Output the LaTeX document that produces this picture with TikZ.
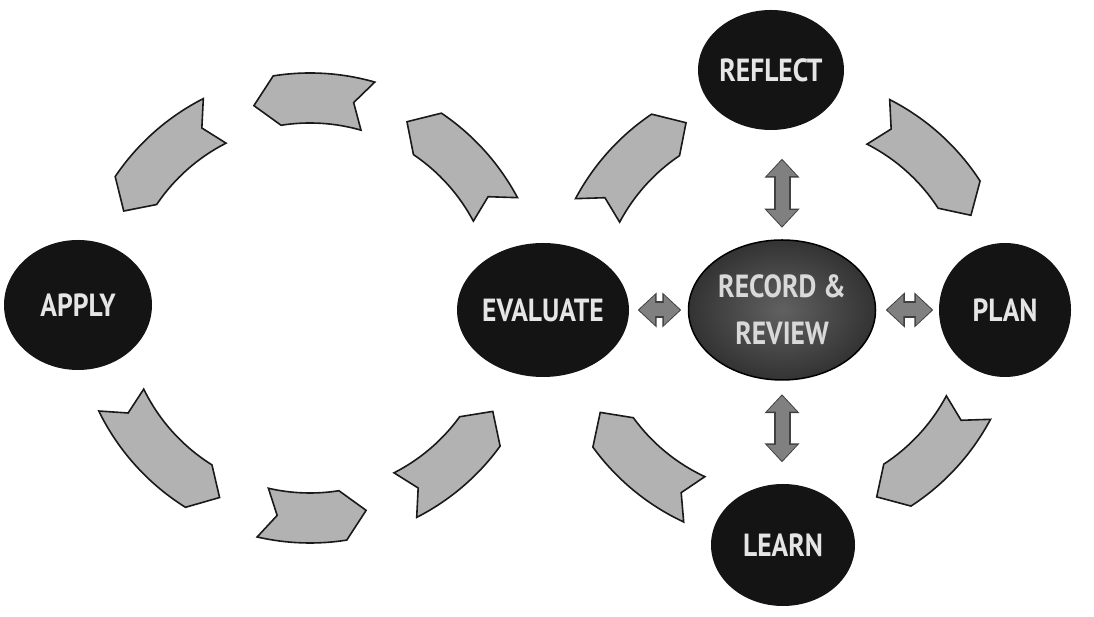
\documentclass[tikz,border=0pt]{standalone}
\usepackage{fontspec}
\newfontfamily\lblfont[FakeStretch=0.86]{PT Sans}
\usetikzlibrary{shapes,arrows,positioning,calc,arrows.meta}

% curved band arrow on a loop: centre, tail angle, head angle, direction
\newcommand{\swoosh}[4]{%
  \pgfmathsetmacro\notchang{#2+4*#4}%
  \pgfmathsetmacro\tipang{#3+6.5*#4}%
  \draw[chev] ($(#1)+(#2:235)$) arc[start angle=#2, end angle=#3, radius=235pt]
    -- ($(#1)+(\tipang:210)$) -- ($(#1)+(#3:185)$)
    arc[start angle=#3, end angle=#2, radius=185pt]
    -- ($(#1)+(\notchang:210)$) -- cycle;
}

% fat double arrow: from, to, gap at start, gap at end
\newcommand{\twoway}[4]{%
  \draw[dblout, shorten <=#3-1.5pt, shorten >=#4-1.5pt] (#1) -- (#2);
  \draw[dblin, shorten <=#3, shorten >=#4] (#1) -- (#2);
}

\begin{document}
\begin{tikzpicture}[x=1pt, y=1pt,
    stage/.style={ellipse, fill=black!92, text=white!90!black, inner sep=0pt,
      font=\lblfont\bfseries\fontsize{32}{47}\selectfont},
    hub/.style={ellipse, draw=black, line width=1.5pt, inner sep=0pt,
      inner color=black!62, outer color=black!80, text=white!85!black, align=center,
      font=\lblfont\bfseries\fontsize{32}{47}\selectfont},
    chev/.style={fill=black!30, draw=black!90, line width=1.6pt},
    dblout/.style={draw=black!75, line width=17pt,
      {Triangle[width=34pt,length=19pt]}-{Triangle[width=34pt,length=19pt]}},
    dblin/.style={draw=black!50, line width=13pt,
      {Triangle[width=29pt,length=16pt]}-{Triangle[width=29pt,length=16pt]}}]
    \useasboundingbox (0,0) rectangle (1094,617);

    % Stages
    \node[stage, minimum width=148pt, minimum height=130pt] (AP) at (78,312) {APPLY};
    \node[stage, minimum width=136pt, minimum height=134pt] (EV) at (543,307) {EVALUATE};
    \node[stage, minimum width=127pt, minimum height=120pt] (RF) at (771,547) {REFLECT};
    \node[stage, minimum width=132pt, minimum height=134pt] (PL) at (1005,307) {PLAN};
    \node[stage, minimum width=144pt, minimum height=122pt] (LN) at (783,72) {LEARN};

    % Centre
    \node[hub, minimum width=187pt, minimum height=140pt] (RR) at (782,307) {RECORD \&\\REVIEW};

    % Loop centres
    \coordinate (L) at (310,309);
    \coordinate (R) at (783,308);

    % Left loop
    \swoosh{L}{74}{99}{1}
    \swoosh{L}{117}{146}{1}
    \swoosh{L}{206}{238}{1}
    \swoosh{L}{257}{279}{1}
    \swoosh{L}{297}{324}{1}
    \swoosh{L}{28}{56}{1}

    % Right loop
    \swoosh{R}{152}{124}{-1}
    \swoosh{R}{63}{33}{-1}
    \swoosh{R}{332}{303}{-1}
    \swoosh{R}{245}{216}{-1}

    % Links to the centre
    \twoway{EV}{RR}{10pt}{8pt}
    \twoway{RR}{PL}{11pt}{7pt}
    \twoway{RR.north}{RR.north |- RF.south}{13pt}{30pt}
    \twoway{RR.south}{RR.south |- LN.north}{15pt}{23pt}

\end{tikzpicture}
\end{document}
